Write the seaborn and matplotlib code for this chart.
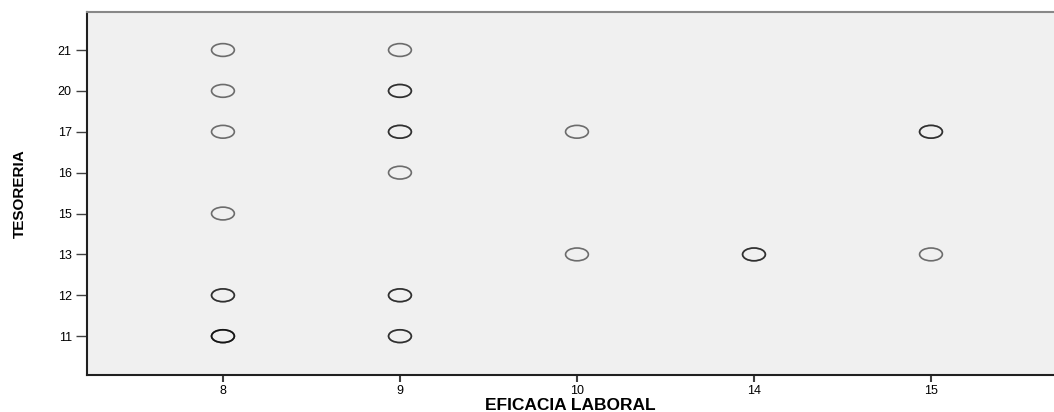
import matplotlib
matplotlib.use("Agg")
import matplotlib.pyplot as plt
import seaborn as sns
import pandas as pd
from matplotlib.path import Path
from matplotlib.transforms import Affine2D

# categorias de los ejes (escala categorica, como en SPSS)
eficacia_cats = ["8", "9", "10", "14", "15"]
tesoreria_cats = ["11", "12", "13", "15", "16", "17", "20", "21"]

# casos observados (los repetidos se dibujan encima y salen mas oscuros)
eficacia = ["8", "8", "8", "8", "8", "8", "8", "8", "8",
            "9", "9", "9", "9", "9", "9", "9", "9", "9", "9",
            "10", "10",
            "14", "14",
            "15", "15", "15"]
tesoreria = ["21", "20", "17", "15", "12", "12", "11", "11", "11",
             "21", "20", "20", "17", "17", "16", "12", "12", "11", "11",
             "17", "13",
             "13", "13",
             "17", "17", "13"]

df = pd.DataFrame({"EFICACIA LABORAL": eficacia, "TESORERIA": tesoreria})
df["x"] = [eficacia_cats.index(v) for v in df["EFICACIA LABORAL"]]
df["y"] = [tesoreria_cats.index(v) for v in df["TESORERIA"]]

# marcador eliptico (circulo achatado)
elipse = Path.unit_circle().transformed(Affine2D().scale(1.0, 0.56))

fig = plt.figure(figsize=(10.54, 4.12), dpi=100)
ax = fig.add_axes([87 / 1054, 1 - 375 / 412, 1 - 87 / 1054, (375 - 12) / 412])
ax.set_facecolor("#f0f0f0")

sns.scatterplot(data=df, x="x", y="y", marker=elipse, s=270,
                facecolor="none", edgecolor=(0, 0, 0, 0.55), linewidth=1.2,
                ax=ax, legend=False)

ax.set_xlim(-0.768, 4.695)
ax.set_ylim(-0.95, 7.93)
ax.set_xticks(range(len(eficacia_cats)))
ax.set_xticklabels(eficacia_cats)
ax.set_yticks(range(len(tesoreria_cats)))
ax.set_yticklabels(tesoreria_cats)

for lab in ax.get_xticklabels() + ax.get_yticklabels():
    lab.set_family(["Liberation Sans", "DejaVu Sans"])
    lab.set_fontsize(9)
ax.tick_params(axis="y", length=8, width=1, color="#404040", pad=3)
ax.tick_params(axis="x", length=5, width=1.5, color="#404040", pad=2)

ax.set_xlabel("EFICACIA LABORAL", fontsize=12.5, fontweight="bold",
              family=["Liberation Sans", "DejaVu Sans"], labelpad=1)
ax.set_ylabel("TESORERIA", fontsize=11, fontweight="bold",
              family=["Liberation Sans", "DejaVu Sans"], labelpad=22)

ax.spines["left"].set_color("#202020")
ax.spines["left"].set_linewidth(1.5)
ax.spines["bottom"].set_color("#202020")
ax.spines["bottom"].set_linewidth(1.5)
ax.spines["top"].set_color("#888888")
ax.spines["top"].set_linewidth(1.5)
ax.spines["right"].set_visible(False)

fig.savefig("out.png", dpi=100)
